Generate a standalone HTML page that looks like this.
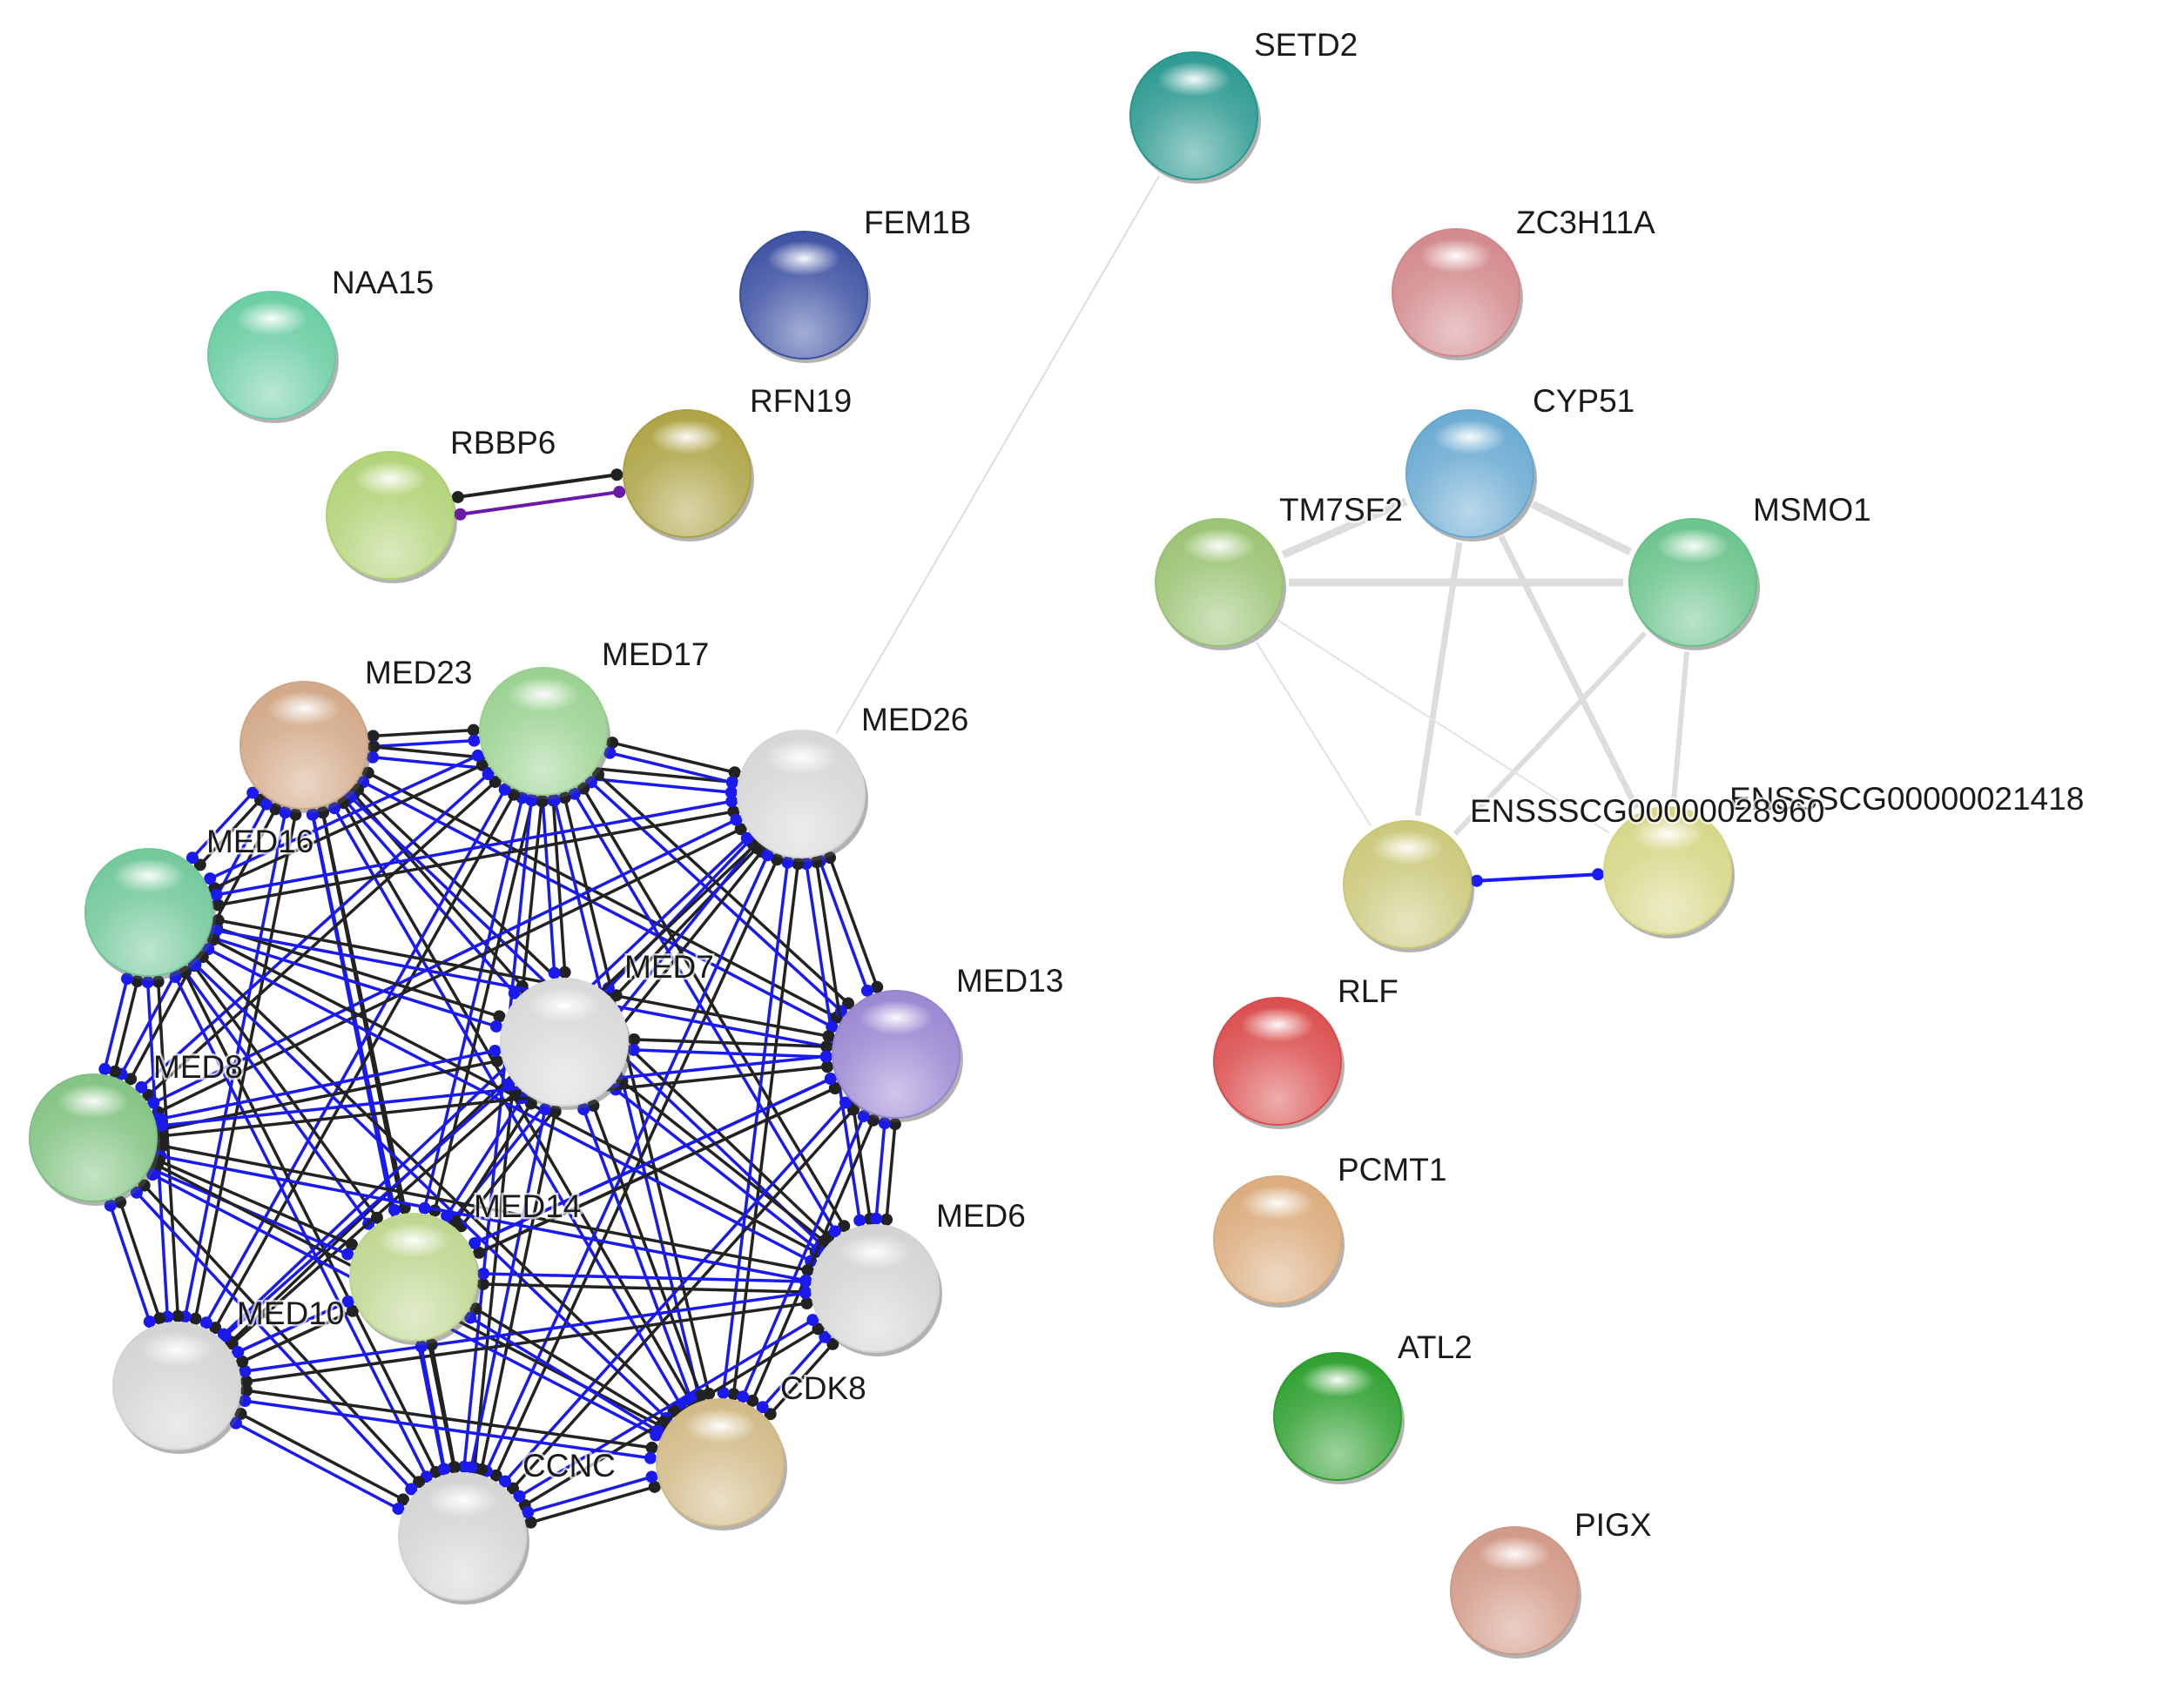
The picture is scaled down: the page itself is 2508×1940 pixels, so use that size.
<!DOCTYPE html>
<html><head><meta charset="utf-8"><style>
html,body{margin:0;padding:0;background:#fff;}
svg{display:block;}
text{font-family:"Liberation Sans",sans-serif;font-size:37px;fill:#1a1a1a;stroke:#fff;stroke-width:5px;paint-order:stroke;stroke-opacity:0.7;}
</style></head><body>
<svg id="s" width="2508" height="1940" viewBox="0 0 2508 1940" xmlns="http://www.w3.org/2000/svg">
<defs>
<radialGradient id="hl" cx="0.5" cy="0.5" r="0.5"><stop offset="0" stop-color="#fff" stop-opacity="0.95"/><stop offset="1" stop-color="#fff" stop-opacity="0"/></radialGradient>
</defs>
<g id="edges"></g>
<g id="nodes"></g>
<g id="labels">
<text x="1440" y="64">SETD2</text>
<text x="1741" y="268">ZC3H11A</text>
<text x="992" y="268">FEM1B</text>
<text x="381" y="337">NAA15</text>
<text x="517" y="521">RBBP6</text>
<text x="861" y="473">RFN19</text>
<text x="1760" y="473">CYP51</text>
<text x="1469" y="598">TM7SF2</text>
<text x="2013" y="598">MSMO1</text>
<text x="1986" y="930">ENSSSCG00000021418</text>
<text x="1688" y="944">ENSSSCG00000028960</text>
<text x="1536" y="1151">RLF</text>
<text x="1536" y="1356">PCMT1</text>
<text x="1605" y="1560">ATL2</text>
<text x="1808" y="1764">PIGX</text>
<text x="419" y="785">MED23</text>
<text x="691" y="764">MED17</text>
<text x="989" y="839">MED26</text>
<text x="237" y="979">MED16</text>
<text x="717" y="1123">MED7</text>
<text x="1098" y="1139">MED13</text>
<text x="176" y="1238">MED8</text>
<text x="1075" y="1409">MED6</text>
<text x="544" y="1398">MED14</text>
<text x="272" y="1521">MED10</text>
<text x="896" y="1607">CDK8</text>
<text x="600" y="1696">CCNC</text>
</g>
</svg>
<script>
var NS="http://www.w3.org/2000/svg";
function el(t,a,p){var e=document.createElementNS(NS,t);for(var k in a)e.setAttribute(k,a[k]);p.appendChild(e);return e;}
var N={
SETD2:[1371,133,"#4aa8a0"],ZC3H11A:[1672,336,"#d99a9c"],FEM1B:[923,339,"#5a6bb0"],NAA15:[312,408,"#7fd4b0"],
RBBP6:[448,592,"#bcd98a"],RFN19:[789,544,"#b9b160"],CYP51:[1688,544,"#7fb6d8"],TM7SF2:[1400,669,"#a9cc88"],
MSMO1:[1944,669,"#80cc9c"],E1:[1616,1016,"#d2d08c"],E2:[1915,1000,"#dcdc98"],RLF:[1467,1219,"#e06868"],
PCMT1:[1467,1424,"#e0b890"],ATL2:[1536,1627,"#4eae4e"],PIGX:[1739,1827,"#d8a898"],
MED23:[349,856,"#d8b498"],MED17:[624,840,"#a8d8a0"],MED26:[920,912,"#dcdcdc"],MED16:[171,1048,"#86d0a8"],
MED7:[648,1197,"#dedede"],MED13:[1029,1211,"#a898d8"],MED8:[107,1307,"#94cc94"],MED6:[1005,1480,"#dadada"],
MED14:[475,1467,"#c8dca0"],MED10:[203,1592,"#dadada"],CDK8:[827,1680,"#d8c498"],CCNC:[531,1765,"#dadada"]};
var E=document.getElementById("edges"),G=document.getElementById("nodes");
function line(a,b,c,w,off,dots){var A=N[a],B=N[b];var dx=B[0]-A[0],dy=B[1]-A[1],L=Math.hypot(dx,dy);var ux=dx/L,uy=dy/L,px=-uy*off,py=ux*off;var r=80;
var x1=A[0]+ux*r+px,y1=A[1]+uy*r+py,x2=B[0]-ux*r+px,y2=B[1]-uy*r+py;
el("line",{x1:x1,y1:y1,x2:x2,y2:y2,stroke:c,"stroke-width":w},E);
if(dots){el("circle",{cx:x1,cy:y1,r:7,fill:c},E);el("circle",{cx:x2,cy:y2,r:7,fill:c},E);}}
function mix(h,f){var r=parseInt(h.substr(1,2),16),g=parseInt(h.substr(3,2),16),b=parseInt(h.substr(5,2),16);
r=Math.round(r+(255-r)*f);g=Math.round(g+(255-g)*f);b=Math.round(b+(255-b)*f);return "rgb("+r+","+g+","+b+")";}
line("SETD2","MED26","#ddd",2,0);
line("CYP51","TM7SF2","#ddd",9,0);line("CYP51","MSMO1","#ddd",9,0);line("TM7SF2","MSMO1","#ddd",9,0);
line("CYP51","E1","#ddd",7,0);line("CYP51","E2","#ddd",7,0);line("MSMO1","E1","#ddd",6,0);line("MSMO1","E2","#ddd",6,0);
line("TM7SF2","E1","#e2e2e2",2,0);line("TM7SF2","E2","#e2e2e2",2,0);
line("E1","E2","#1a1aff",4,0,true);
line("RBBP6","RFN19","#222",4,-10,true);line("RBBP6","RFN19","#6a1aa8",4,10,true);
var M=["MED23","MED17","MED26","MED16","MED7","MED13","MED8","MED6","MED14","MED10","CDK8","CCNC"];
for(var i=0;i<M.length;i++)for(var j=i+1;j<M.length;j++){line(M[i],M[j],"#222",3.5,-6,true);line(M[i],M[j],"#1a1aee",3.5,6,true);}
for(var k in N){var n=N[k],x=n[0],y=n[1];
var gid="g"+k;var g=el("radialGradient",{id:gid,cx:"0.5",cy:"0.8",r:"0.75"},document.querySelector("defs"));
el("stop",{offset:"0","stop-color":mix(n[2],0.45)},g);el("stop",{offset:"0.6","stop-color":n[2]},g);el("stop",{offset:"1","stop-color":mix(n[2],-0.15)},g);
el("ellipse",{cx:x+3,cy:y+6,rx:74,ry:72,fill:"#555",opacity:"0.45"},G);
el("circle",{cx:x,cy:y,r:73,fill:"#fff"},G);
el("circle",{cx:x,cy:y,r:73,fill:"url(#"+gid+")",stroke:mix(n[2],-0.2),"stroke-width":2},G);
el("ellipse",{cx:x,cy:y-42,rx:42,ry:20,fill:"url(#hl)"},G);}
</script>
</body></html>
